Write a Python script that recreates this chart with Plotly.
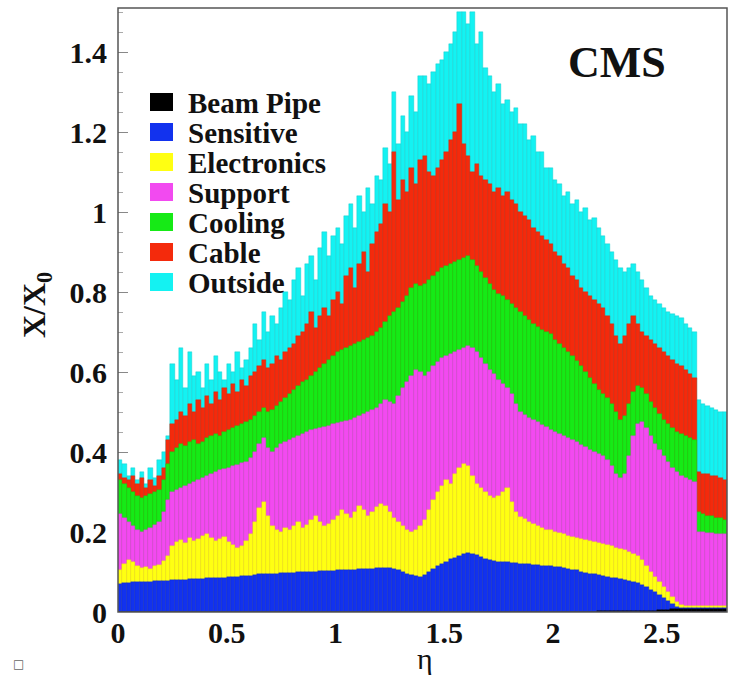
import plotly.graph_objects as go

# eta bin centres (bin width 0.02)
eta = [round(0.01 + 0.02 * i, 2) for i in range(140)]
bin_width = 0.02

# cumulative layer tops (X/X0), 10 bins per row (0.2 in eta)
beam_pipe_top = [
    0.001, 0.001, 0.001, 0.001, 0.001, 0.001, 0.001, 0.001, 0.001, 0.001,
    0.001, 0.001, 0.001, 0.001, 0.001, 0.001, 0.001, 0.001, 0.001, 0.001,
    0.001, 0.001, 0.001, 0.001, 0.001, 0.001, 0.001, 0.001, 0.001, 0.001,
    0.001, 0.001, 0.001, 0.001, 0.001, 0.001, 0.001, 0.001, 0.001, 0.001,
    0.001, 0.001, 0.001, 0.001, 0.001, 0.001, 0.001, 0.001, 0.001, 0.001,
    0.001, 0.001, 0.001, 0.001, 0.001, 0.001, 0.001, 0.001, 0.001, 0.001,
    0.001, 0.001, 0.001, 0.001, 0.001, 0.001, 0.001, 0.001, 0.001, 0.001,
    0.001, 0.001, 0.001, 0.001, 0.001, 0.001, 0.001, 0.001, 0.001, 0.001,
    0.001, 0.001, 0.001, 0.001, 0.001, 0.001, 0.001, 0.001, 0.001, 0.001,
    0.001, 0.001, 0.001, 0.001, 0.001, 0.001, 0.001, 0.001, 0.001, 0.001,
    0.001, 0.001, 0.001, 0.001, 0.001, 0.001, 0.001, 0.001, 0.001, 0.001,
    0.002, 0.002, 0.002, 0.002, 0.002, 0.002, 0.002, 0.002, 0.002, 0.002,
    0.002, 0.002, 0.002, 0.003, 0.004, 0.005, 0.006, 0.007, 0.008, 0.008,
    0.008, 0.008, 0.008, 0.008, 0.008, 0.008, 0.008, 0.008, 0.008, 0.008,
]
sensitive_top = [
    0.070, 0.072, 0.072, 0.074, 0.074, 0.075, 0.076, 0.076, 0.077, 0.077,
    0.078, 0.078, 0.079, 0.080, 0.080, 0.081, 0.082, 0.082, 0.083, 0.083,
    0.084, 0.084, 0.085, 0.086, 0.086, 0.087, 0.088, 0.088, 0.090, 0.090,
    0.091, 0.092, 0.094, 0.095, 0.094, 0.095, 0.096, 0.097, 0.097, 0.098,
    0.098, 0.099, 0.100, 0.100, 0.101, 0.100, 0.102, 0.102, 0.103, 0.103,
    0.104, 0.104, 0.105, 0.106, 0.106, 0.107, 0.108, 0.107, 0.108, 0.109,
    0.110, 0.111, 0.110, 0.108, 0.104, 0.100, 0.096, 0.092, 0.090, 0.088,
    0.092, 0.100, 0.108, 0.115, 0.120, 0.126, 0.132, 0.136, 0.140, 0.145,
    0.148, 0.146, 0.142, 0.138, 0.133, 0.130, 0.128, 0.126, 0.124, 0.124,
    0.123, 0.122, 0.121, 0.120, 0.119, 0.118, 0.117, 0.116, 0.115, 0.114,
    0.113, 0.112, 0.110, 0.108, 0.106, 0.104, 0.101, 0.098, 0.096, 0.094,
    0.092, 0.090, 0.088, 0.086, 0.084, 0.082, 0.080, 0.078, 0.076, 0.073,
    0.068, 0.062, 0.056, 0.050, 0.043, 0.036, 0.028, 0.020, 0.013, 0.010,
    0.009, 0.009, 0.009, 0.009, 0.009, 0.009, 0.009, 0.009, 0.009, 0.009,
]
electronics_top = [
    0.105, 0.120, 0.130, 0.125, 0.115, 0.110, 0.112, 0.108, 0.115, 0.118,
    0.128, 0.140, 0.165, 0.175, 0.180, 0.172, 0.185, 0.178, 0.182, 0.190,
    0.195, 0.185, 0.178, 0.182, 0.188, 0.175, 0.168, 0.160, 0.165, 0.178,
    0.195, 0.225, 0.260, 0.275, 0.240, 0.215, 0.205, 0.200, 0.210, 0.205,
    0.215, 0.225, 0.210, 0.218, 0.230, 0.240, 0.225, 0.215, 0.220, 0.230,
    0.240, 0.255, 0.245, 0.235, 0.250, 0.265, 0.255, 0.240, 0.250, 0.262,
    0.270, 0.265, 0.250, 0.235, 0.225, 0.215, 0.205, 0.200, 0.205, 0.215,
    0.230, 0.255, 0.280, 0.300, 0.315, 0.330, 0.320, 0.345, 0.360, 0.370,
    0.365, 0.340, 0.320, 0.310, 0.300, 0.290, 0.285, 0.290, 0.300, 0.310,
    0.275, 0.250, 0.238, 0.232, 0.225, 0.220, 0.215, 0.210, 0.205, 0.205,
    0.200, 0.198, 0.195, 0.190, 0.188, 0.185, 0.182, 0.180, 0.178, 0.175,
    0.172, 0.170, 0.168, 0.165, 0.160, 0.158, 0.155, 0.150, 0.145, 0.140,
    0.130, 0.115, 0.100, 0.088, 0.075, 0.062, 0.050, 0.038, 0.025, 0.017,
    0.014, 0.014, 0.014, 0.014, 0.014, 0.014, 0.014, 0.014, 0.014, 0.014,
]
support_top = [
    0.245, 0.235, 0.225, 0.215, 0.205, 0.200, 0.205, 0.210, 0.218, 0.225,
    0.250, 0.280, 0.300, 0.305, 0.310, 0.315, 0.320, 0.325, 0.330, 0.335,
    0.340, 0.345, 0.350, 0.355, 0.358, 0.360, 0.365, 0.368, 0.372, 0.375,
    0.385, 0.400, 0.420, 0.435, 0.410, 0.400, 0.410, 0.420, 0.425, 0.430,
    0.435, 0.440, 0.445, 0.450, 0.455, 0.458, 0.460, 0.462, 0.465, 0.470,
    0.472, 0.475, 0.478, 0.480, 0.485, 0.490, 0.495, 0.500, 0.505, 0.510,
    0.520, 0.530, 0.525, 0.520, 0.540, 0.560, 0.575, 0.590, 0.605, 0.600,
    0.590, 0.600, 0.615, 0.625, 0.635, 0.640, 0.645, 0.650, 0.655, 0.660,
    0.665, 0.660, 0.650, 0.635, 0.620, 0.605, 0.595, 0.580, 0.570, 0.560,
    0.545, 0.520, 0.500, 0.492, 0.486, 0.480, 0.474, 0.468, 0.462, 0.456,
    0.450, 0.445, 0.440, 0.435, 0.430, 0.424, 0.418, 0.412, 0.406, 0.400,
    0.395, 0.390, 0.380, 0.365, 0.345, 0.335, 0.345, 0.390, 0.440, 0.470,
    0.475, 0.460, 0.440, 0.420, 0.405, 0.390, 0.375, 0.360, 0.350, 0.340,
    0.335, 0.330, 0.325, 0.200, 0.200, 0.198, 0.198, 0.196, 0.196, 0.195,
]
cooling_top = [
    0.330, 0.320, 0.310, 0.300, 0.290, 0.285, 0.290, 0.295, 0.300, 0.305,
    0.330, 0.370, 0.400, 0.410, 0.420, 0.415, 0.425, 0.430, 0.420, 0.425,
    0.435, 0.440, 0.445, 0.440, 0.450, 0.455, 0.460, 0.465, 0.470, 0.475,
    0.480, 0.490, 0.500, 0.510, 0.500, 0.505, 0.515, 0.525, 0.535, 0.545,
    0.555, 0.565, 0.575, 0.580, 0.590, 0.600, 0.610, 0.620, 0.630, 0.640,
    0.650, 0.655, 0.660, 0.665, 0.670, 0.675, 0.680, 0.685, 0.690, 0.700,
    0.710, 0.725, 0.740, 0.750, 0.760, 0.775, 0.790, 0.810, 0.820, 0.815,
    0.820, 0.830, 0.840, 0.850, 0.860, 0.865, 0.870, 0.875, 0.880, 0.885,
    0.890, 0.880, 0.865, 0.850, 0.835, 0.820, 0.805, 0.795, 0.790, 0.780,
    0.770, 0.760, 0.750, 0.740, 0.730, 0.720, 0.712, 0.705, 0.700, 0.695,
    0.680, 0.670, 0.660, 0.650, 0.640, 0.628, 0.615, 0.600, 0.585, 0.570,
    0.555, 0.545, 0.535, 0.520, 0.500, 0.480, 0.490, 0.520, 0.550, 0.565,
    0.560, 0.545, 0.525, 0.510, 0.495, 0.480, 0.470, 0.460, 0.450, 0.445,
    0.440, 0.435, 0.430, 0.250, 0.245, 0.240, 0.240, 0.235, 0.235, 0.230,
]
cable_top = [
    0.345, 0.335, 0.330, 0.340, 0.320, 0.335, 0.310, 0.330, 0.315, 0.340,
    0.360, 0.430, 0.470, 0.480, 0.500, 0.490, 0.520, 0.500, 0.530, 0.510,
    0.540, 0.520, 0.550, 0.530, 0.560, 0.545, 0.570, 0.550, 0.580, 0.565,
    0.590, 0.600, 0.615, 0.630, 0.610, 0.620, 0.640, 0.630, 0.650, 0.660,
    0.670, 0.690, 0.700, 0.720, 0.750, 0.710, 0.740, 0.760, 0.740, 0.780,
    0.800, 0.770, 0.840, 0.860, 0.810, 0.870, 0.900, 0.850, 0.920, 0.950,
    0.970, 1.020, 1.000, 1.150, 1.030, 1.080, 1.050, 1.110, 1.070, 1.130,
    1.140, 1.100, 1.090, 1.110, 1.130, 1.150, 1.180, 1.200, 1.270, 1.170,
    1.140, 1.100, 1.120, 1.090, 1.080, 1.070, 1.050, 1.060, 1.040, 1.050,
    1.030, 1.020, 1.000, 0.990, 0.980, 0.960, 0.950, 0.940, 0.930, 0.920,
    0.900, 0.890, 0.870, 0.860, 0.840, 0.830, 0.810, 0.800, 0.790, 0.780,
    0.770, 0.760, 0.740, 0.720, 0.690, 0.670, 0.690, 0.720, 0.740, 0.720,
    0.700, 0.690, 0.680, 0.670, 0.660, 0.650, 0.640, 0.630, 0.620, 0.615,
    0.605, 0.595, 0.585, 0.350, 0.345, 0.345, 0.340, 0.340, 0.335, 0.330,
]
outside_top = [
    0.380, 0.370, 0.340, 0.360, 0.330, 0.350, 0.320, 0.360, 0.335, 0.380,
    0.400, 0.440, 0.620, 0.580, 0.660, 0.560, 0.650, 0.590, 0.600, 0.560,
    0.620, 0.580, 0.640, 0.600, 0.580, 0.620, 0.600, 0.650, 0.610, 0.630,
    0.660, 0.720, 0.680, 0.750, 0.700, 0.740, 0.720, 0.760, 0.800, 0.780,
    0.830, 0.860, 0.790, 0.870, 0.890, 0.830, 0.910, 0.950, 0.890, 0.940,
    0.960, 0.920, 0.990, 1.020, 0.960, 1.040, 1.000, 1.060, 1.020, 1.090,
    1.080, 1.160, 1.120, 1.300, 1.170, 1.240, 1.200, 1.290, 1.250, 1.340,
    1.340, 1.320, 1.350, 1.370, 1.380, 1.400, 1.420, 1.450, 1.500, 1.500,
    1.470, 1.500, 1.420, 1.450, 1.360, 1.340, 1.300, 1.320, 1.270, 1.280,
    1.250, 1.260, 1.220, 1.220, 1.180, 1.190, 1.150, 1.150, 1.110, 1.110,
    1.080, 1.070, 1.040, 1.050, 1.020, 1.030, 1.000, 1.010, 0.980, 0.985,
    0.960, 0.940, 0.920, 0.900, 0.880, 0.860, 0.850, 0.860, 0.870, 0.850,
    0.830, 0.810, 0.790, 0.780, 0.770, 0.760, 0.750, 0.745, 0.740, 0.735,
    0.720, 0.710, 0.700, 0.530, 0.520, 0.515, 0.510, 0.505, 0.500, 0.500,
]

legend_names = ["Beam Pipe", "Sensitive", "Electronics", "Support",
                "Cooling", "Cable", "Outside"]
colors = ["#000000", "#1232ee", "#ffff12", "#f24af0", "#16ea16", "#f42a0c", "#14f2f2"]
edge_colors = ["#000000", "#1028d0", "#e8e810", "#dc40da", "#12d012", "#d82408", "#10c8c8"]
tops = [beam_pipe_top, sensitive_top, electronics_top, support_top,
        cooling_top, cable_top, outside_top]

fig = go.Figure()
# draw from outermost to innermost so inner layers overlay outer ones
for name, vals, col, ecol in reversed(list(zip(legend_names, tops, colors, edge_colors))):
    fig.add_trace(go.Bar(
        x=eta, y=vals, width=bin_width, name=name,
        marker=dict(color=col, line=dict(width=0.4, color=ecol)),
        showlegend=False, hoverinfo="x+y+name",
    ))

W, H = 729, 675
L, R, T, B = 118, 2, 8, 63
pw, ph = W - L - R, H - T - B


def px(xp):
    return (xp - L) / pw


def py(yp):
    return 1 - (yp - T) / ph


SERIF = "Liberation Serif"
shapes = []
annotations = []

# manual legend (ROOT-like boxes)
for i, (name, col) in enumerate(zip(legend_names, colors)):
    yc = 102 + 30 * i
    shapes.append(dict(type="rect", xref="paper", yref="paper",
                       x0=px(150), x1=px(173), y0=py(yc + 9), y1=py(yc - 9),
                       fillcolor=col, line=dict(width=0), layer="above"))
    annotations.append(dict(x=px(186), y=py(yc + 1), xref="paper", yref="paper",
                            text=name, showarrow=False, xanchor="left", yanchor="middle",
                            font=dict(family=SERIF, size=29, color="#111", weight="bold")))

# frame
shapes.append(dict(type="rect", xref="paper", yref="paper", x0=0, x1=1, y0=0, y1=1,
                   line=dict(color="#555", width=1.5), layer="above"))

annotations.append(dict(x=px(617), y=py(63), xref="paper", yref="paper", text="CMS",
                        showarrow=False, xanchor="center", yanchor="middle",
                        font=dict(family=SERIF, size=44, color="#111", weight="bold")))
annotations.append(dict(x=px(36), y=py(305), xref="paper", yref="paper",
                        text="X/X<sub>0</sub>", showarrow=False, textangle=-90,
                        xanchor="center", yanchor="middle",
                        font=dict(family=SERIF, size=32, color="#111", weight="bold")))
annotations.append(dict(x=px(425), y=py(658), xref="paper", yref="paper", text="η",
                        showarrow=False, xanchor="center", yanchor="middle",
                        font=dict(family=SERIF, size=30, color="#111")))
annotations.append(dict(x=px(18), y=py(664), xref="paper", yref="paper", text="□",
                        showarrow=False, xanchor="center", yanchor="middle",
                        font=dict(family="DejaVu Sans", size=12, color="#666")))

fig.update_layout(
    width=W, height=H,
    margin=dict(l=L, r=R, t=T, b=B),
    paper_bgcolor="white", plot_bgcolor="white",
    barmode="overlay", bargap=0,
    showlegend=False,
    shapes=shapes, annotations=annotations,
    xaxis=dict(range=[0, 2.8], tickvals=[0, 0.5, 1, 1.5, 2, 2.5],
               ticktext=["0", "0.5", "1", "1.5", "2", "2.5"],
               ticks="", showgrid=False, zeroline=False, showline=False,
               tickfont=dict(family=SERIF, size=30, color="#111", weight="bold"),
               layer="below traces"),
    yaxis=dict(range=[0, 1.51], tickvals=[0, 0.2, 0.4, 0.6, 0.8, 1, 1.2, 1.4],
               ticktext=["0", "0.2", "0.4", "0.6", "0.8", "1", "1.2", "1.4"],
               ticks="inside", ticklen=10, tickcolor="#888", tickwidth=1,
               minor=dict(ticks="inside", ticklen=5, tickcolor="#aaa", dtick=0.05),
               showgrid=False, zeroline=False, showline=False,
               ticklabelstandoff=10,
               tickfont=dict(family=SERIF, size=30, color="#111", weight="bold"),
               layer="below traces"),
)

fig.write_html(
    "out.html",
    config={"displayModeBar": False},
    post_script="document.body.style.margin='0';document.body.style.overflow='hidden';",
)
